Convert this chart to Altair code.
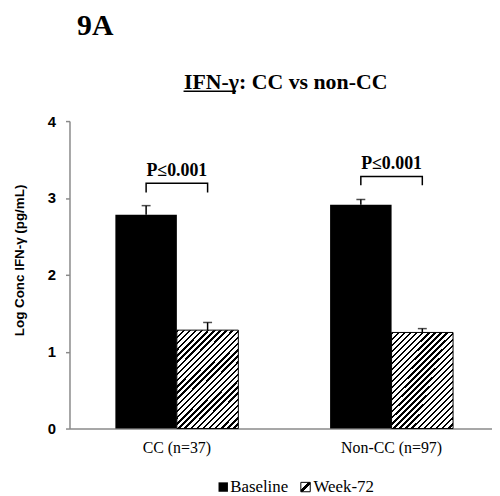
import altair as alt
import pandas as pd

# ---- data ----
groups = ["CC (n=37)", "Non-CC (n=97)"]
series = ["Baseline", "Week-72"]
means_baseline = [2.78, 2.91]
means_week72 = [1.28, 1.25]
err_baseline = [0.12, 0.07]
err_week72 = [0.10, 0.05]
p_labels = ["P\u22640.001", "P\u22640.001"]
p_label_y = [3.28, 3.38]
bracket_top = [3.19, 3.28]
bracket_leg = [3.07, 3.165]
y_ticks = [0, 1, 2, 3, 4]
panel_label = ["9A"]
chart_title = ["IFN-\u03b3: CC vs non-CC"]
y_title = "Log Conc IFN-\u03b3 (pg/mL)"

rows = []
for gi, g in enumerate(groups):
    rows.append(dict(group=g, series="Baseline", value=means_baseline[gi], err=err_baseline[gi]))
    rows.append(dict(group=g, series="Week-72", value=means_week72[gi], err=err_week72[gi]))
df = pd.DataFrame(rows)
df["top"] = df["value"] + df["err"]

brows = []
for gi, g in enumerate(groups):
    brows.append(dict(group=g, series="Baseline", value=bracket_leg[gi], order=0))
    brows.append(dict(group=g, series="Baseline", value=bracket_top[gi], order=1))
    brows.append(dict(group=g, series="Week-72", value=bracket_top[gi], order=2))
    brows.append(dict(group=g, series="Week-72", value=bracket_leg[gi], order=3))
bdf = pd.DataFrame(brows)

pdf = pd.DataFrame({"group": groups, "value": p_label_y, "label": p_labels})

SERIF = "Liberation Serif"
SANS = "Liberation Sans"

x_enc = alt.X(
    "group:N",
    sort=groups,
    scale=alt.Scale(domain=groups, range=[0, 433], paddingInner=0.4273, paddingOuter=0.2137),
    axis=alt.Axis(title=None, labelAngle=0, ticks=False, tickSize=0, labelPadding=11,
                  labelFont=SERIF, labelFontSize=16, labelColor="black",
                  domainColor="#8a8a8a", domainWidth=1.5),
)
xo_enc = alt.XOffset("series:N", scale=alt.Scale(domain=series, paddingInner=0, paddingOuter=0))
y_enc = alt.Y(
    "value:Q",
    scale=alt.Scale(domain=[0, 4], nice=False),
    axis=alt.Axis(values=y_ticks, format="d", grid=False, tickSize=4, tickColor="#8a8a8a", tickWidth=1.5,
                  domainColor="#8a8a8a", domainWidth=1.5, labelPadding=10,
                  labelFont=SANS, labelFontWeight="bold", labelFontSize=15, labelColor="black",
                  title=y_title, titleFont=SANS, titleFontWeight="bold", titleFontSize=13.5,
                  titleColor="black", titleAngle=-90, titleX=-50, titleY=140,
                  titleAlign="center", titleBaseline="middle"),
)

def hatch(n, frac, x2, y2):
    stops = [{"offset": 0, "color": "white"}]
    for i in range(n):
        a = i / n
        b = (i + frac) / n
        c = (i + 1) / n
        stops += [{"offset": a, "color": "black"}, {"offset": b, "color": "black"},
                  {"offset": b, "color": "white"}, {"offset": c, "color": "white"}]
    return alt.LinearGradient(gradient="linear", x1=0, y1=0, x2=x2, y2=y2, stops=stops)

bar_hatch = hatch(26, 0.4, 0.738, 1.1665)
legend_hatch = alt.LinearGradient(gradient="linear", x1=0, y1=0, x2=1, y2=1, stops=[
    {"offset": 0, "color": "white"}, {"offset": 0.4, "color": "white"},
    {"offset": 0.4, "color": "black"}, {"offset": 0.6, "color": "black"},
    {"offset": 0.6, "color": "white"}, {"offset": 1, "color": "white"}])

base_bars = alt.Chart(df[df.series == "Baseline"]).mark_bar(color="black").encode(
    x=x_enc, xOffset=xo_enc, y=y_enc)
week_bars = alt.Chart(df[df.series == "Week-72"]).mark_bar(
    fill=bar_hatch, stroke="black", strokeWidth=1).encode(x=x_enc, xOffset=xo_enc, y=y_enc)
err_rule = alt.Chart(df).mark_rule(color="black", strokeWidth=1.5).encode(
    x=x_enc, xOffset=xo_enc, y=y_enc, y2="top:Q")
err_cap = alt.Chart(df).mark_tick(color="black", orient="horizontal", size=9, thickness=1.5).encode(
    x=x_enc, xOffset=xo_enc, y=alt.Y("top:Q"))
brackets = alt.Chart(bdf).mark_line(color="black", strokeWidth=1.5).encode(
    x=x_enc, xOffset=xo_enc, y=y_enc, detail="group:N", order="order:Q")
ptext = alt.Chart(pdf).mark_text(font=SERIF, fontWeight="bold", fontSize=18,
                                 baseline="alphabetic", align="center", color="black").encode(
    x=x_enc, y=y_enc, text="label:N")

one = pd.DataFrame({"t": [0]})
label9a = alt.Chart(pd.DataFrame({"t": panel_label})).mark_text(
    font=SERIF, fontWeight="bold", fontSize=30, baseline="alphabetic", align="center", color="black"
).encode(x=alt.value(26), y=alt.value(-87), text="t:N")
title = alt.Chart(pd.DataFrame({"t": chart_title})).mark_text(
    font=SERIF, fontWeight="bold", fontSize=22, baseline="alphabetic", align="center", color="black"
).encode(x=alt.value(218), y=alt.value(-32), text="t:N")
underline = alt.Chart(one).mark_rule(color="black", strokeWidth=1.5).encode(
    x=alt.value(115), x2=alt.value(168), y=alt.value(-30))

leg_sq1 = alt.Chart(one).mark_square(size=90, color="black", filled=True, opacity=1).encode(
    x=alt.value(155), y=alt.value(369))
leg_t1 = alt.Chart(pd.DataFrame({"t": [series[0]]})).mark_text(
    font=SERIF, fontSize=17, align="left", baseline="middle", color="black").encode(
    x=alt.value(162), y=alt.value(369), text="t:N")
leg_sq2 = alt.Chart(one).mark_square(size=90, fill=legend_hatch, stroke="black", strokeWidth=1,
                                     filled=True, opacity=1).encode(
    x=alt.value(238), y=alt.value(369))
leg_t2 = alt.Chart(pd.DataFrame({"t": [series[1]]})).mark_text(
    font=SERIF, fontSize=17, align="left", baseline="middle", color="black").encode(
    x=alt.value(246), y=alt.value(369), text="t:N")

chart = alt.layer(
    base_bars, week_bars, err_rule, err_cap, brackets, ptext,
    label9a, title, underline, leg_sq1, leg_t1, leg_sq2, leg_t2,
).properties(
    width=422, height=310,
    padding={"left": 62, "top": 112, "right": 4, "bottom": 66},
    autosize=alt.AutoSizeParams(type="none"),
    background="white",
).configure_view(stroke=None)

chart.save("out.html", embed_options={"renderer": "svg", "actions": False})
